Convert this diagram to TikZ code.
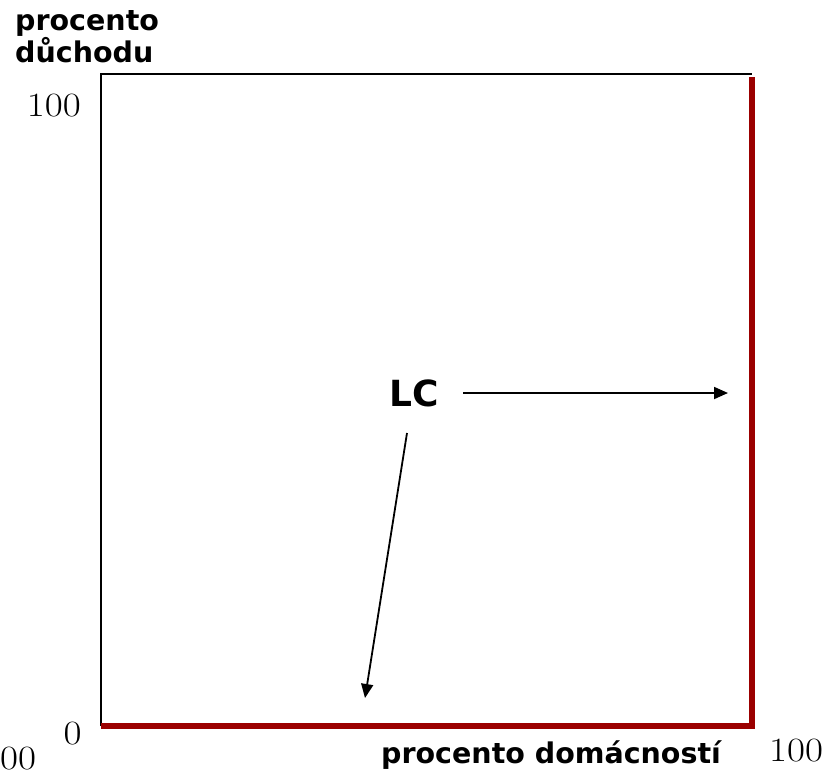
\documentclass[tikz,border=0pt]{standalone}
\usepackage{fontspec}
\usetikzlibrary{arrows.meta}
\newfontfamily\labfont{DejaVu Sans}
\definecolor{lcred}{RGB}{155,0,0}
\tikzset{
  axislab/.style={font=\labfont\bfseries\fontsize{28.5}{28.5}\selectfont, inner sep=0pt, anchor=base west},
  numlab/.style={font=\fontsize{34}{34}\selectfont, inner sep=0pt},
  thinframe/.style={line width=1.6pt, black},
  redframe/.style={line width=6pt, lcred},
  pointer/.style={line width=1.8pt, black, -{Triangle[length=14pt,width=12pt]}}
}
\begin{document}
\begin{tikzpicture}[x=1pt,y=-1pt]
\useasboundingbox (0,0) rectangle (835,774);
% frame corners
\coordinate (tl) at (101,74);
\coordinate (tr) at (752,74);
\coordinate (bl) at (101,726);
\coordinate (br) at (752,726);
\draw[thinframe] (bl) -- (tl) -- (tr);
\draw[redframe] ([yshift=-3pt]tr) -- ([yshift=3pt]br);
\draw[redframe] (bl) -- ([xshift=3pt]br);
% labels
\node[axislab] (ylab1) at (15,30) {procento};
\node[axislab] (ylab2) at (15,62) {důchodu};
\node[axislab] (xlab) at (381,763) {procento domácností};
\node[numlab, anchor=base east] (y100) at (81,116) {\scalebox{1.15}[1]{100}};
\node[numlab, anchor=base] (zero) at (72.5,744) {\scalebox{1.15}[1]{0}};
\node[numlab, anchor=base west] (x00) at (0,769) {\scalebox{1.15}[1]{00}};
\node[numlab, anchor=base west] (x100) at (769,761) {\scalebox{1.15}[1]{100}};
\node[font=\labfont\bfseries\fontsize{36}{36}\selectfont, inner sep=0pt, anchor=base west] (LC) at (389,406) {LC};
% arrows
\coordinate (h1) at (463,393);
\coordinate (h2) at (728,393);
\coordinate (d1) at (407,433);
\coordinate (d2) at (365,698);
\draw[pointer] (h1) -- (h2);
\draw[pointer] (d1) -- (d2);
\end{tikzpicture}
\end{document}
